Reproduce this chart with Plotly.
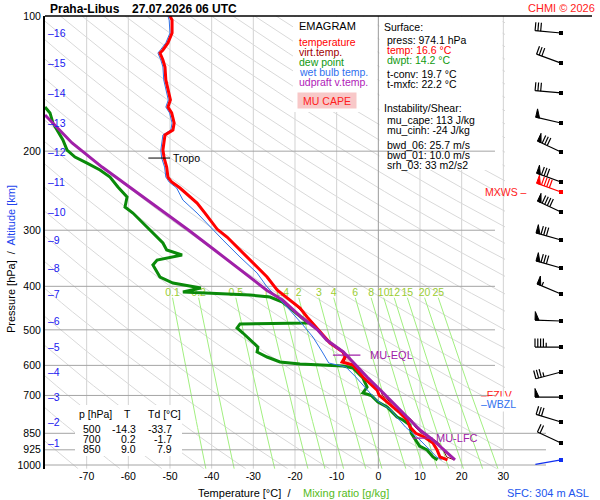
import numpy as np
import plotly.graph_objects as go

W, H = 600, 500
FONT = "Liberation Sans, Arial, Helvetica, sans-serif"

# ---------------- axis geometry (pixels of the 600x500 picture) ----------------
T_ZERO_PX, PX_PER_DEG = 378.33, 4.1667
T_MIN, T_MAX = -80.0, 30.4
Y_TOP_PX, PX_PER_DECADE = 16.0, 449.0
P_MIN, P_MAX = 100.0, 1020.0
X_LEFT_PX = T_ZERO_PX + T_MIN * PX_PER_DEG
X_RIGHT_PX = T_ZERO_PX + T_MAX * PX_PER_DEG
Y_BOT_PX = Y_TOP_PX + PX_PER_DECADE * np.log10(P_MAX / P_MIN)

# ---------------- data ----------------
temp_p = [100.0, 102.1, 109.1, 114.8, 119.0, 120.9, 125.3, 129.9, 138.8, 146.1,
          153.8, 159.5, 164.4, 173.1, 179.4, 184.1, 198.9, 207.2, 217.0, 228.4,
          234.3, 241.6, 253.0, 261.0, 274.7, 287.7, 298.2, 310.7, 332.0, 354.9,
          381.4, 407.6, 429.1, 447.1, 468.2, 500.0, 535.0, 560.2, 574.8, 589.7,
          598.8, 636.9, 680.8, 700.0, 742.7, 765.8, 793.8, 822.8, 850.0, 866.1,
          893.2, 925.8, 959.7, 974.1]
temp_t = [-50.0, -49.5, -49.5, -50.5, -51.7, -52.4, -51.7, -51.2, -51.0, -50.5,
          -49.9, -50.5, -49.6, -49.0, -49.3, -51.2, -51.7, -51.4, -50.8, -50.5,
          -49.6, -47.6, -45.2, -43.5, -41.6, -39.9, -38.7, -36.3, -33.2, -30.1,
          -26.7, -24.3, -21.4, -18.8, -17.1, -14.3, -11.6, -8.5, -8.0, -8.7,
          -6.1, -3.7, -0.3, 0.2, 3.5, 5.2, 6.9, 7.6, 9.0, 11.0,
          13.1, 14.1, 14.8, 16.6]

dwpt_p = [159.5, 164.4, 173.1, 181.2, 188.8, 198.9, 206.1, 212.6, 220.3, 228.4,
          240.4, 253.0, 266.4, 274.7, 295.1, 320.3, 332.0, 340.7, 349.5, 358.6,
          381.4, 393.3, 403.5, 411.8, 418.2, 422.5, 433.5, 475.4, 482.7, 485.2,
          495.3, 508.2, 532.3, 546.1, 560.2, 574.8, 589.7, 595.8, 601.9, 608.1,
          640.2, 670.4, 691.3, 700.0, 723.9, 742.7, 781.7, 793.8, 814.4, 850.0,
          907.1, 925.8, 959.7, 974.1]
dwpt_t = [-80.0, -78.8, -78.1, -76.9, -75.7, -74.7, -72.8, -69.9, -66.8, -64.4,
          -62.5, -60.3, -60.8, -58.9, -55.6, -51.7, -50.8, -47.1, -53.1, -54.1,
          -52.4, -49.3, -42.6, -46.9, -30.8, -26.0, -23.0, -17.5, -16.8, -33.2,
          -33.9, -32.5, -30.1, -28.9, -29.1, -26.7, -23.6, -18.8, -8.5, -6.1,
          -3.7, -2.7, -3.7, -1.7, -0.1, 2.1, 4.5, 5.9, 7.6, 7.9,
          9.9, 11.7, 13.1, 14.2]

wetb_p = [100.0, 102.1, 109.1, 114.8, 119.0, 120.9, 125.3, 129.9, 138.8, 146.1,
          153.8, 159.5, 164.4, 173.1, 179.4, 184.1, 198.9, 207.2, 217.0, 228.4,
          234.3, 241.6, 257.0, 274.7, 295.1, 315.4, 344.2, 373.6, 401.4, 422.5,
          444.8, 487.7, 518.7, 563.1, 592.7, 605.0, 636.9, 687.8, 716.5, 754.1,
          822.8, 879.5, 911.7, 959.7, 974.1]
wetb_t = [-50.5, -50.2, -50.0, -51.0, -52.3, -52.9, -52.2, -51.7, -51.5, -51.0,
          -50.4, -51.0, -50.1, -49.5, -49.8, -51.7, -52.2, -52.0, -51.3, -51.0,
          -50.2, -48.4, -46.9, -43.5, -40.4, -37.3, -33.2, -29.1, -26.7, -24.3,
          -21.9, -18.1, -15.7, -13.3, -11.9, -7.8, -5.4, -2.2, -0.5, 3.0,
          6.5, 10.0, 11.7, 14.0, 15.2]

virt_p = [429.1, 468.2, 500.0, 535.0, 560.2, 574.8, 589.7, 598.8, 636.9, 680.8,
          700.0, 742.7, 765.8, 793.8, 822.8, 850.0, 866.1, 893.2, 925.8, 959.7, 974.1]
virt_t = [-21.3, -16.9, -14.2, -11.4, -8.2, -7.7, -8.3, -5.6, -3.0, 0.5,
          1.0, 4.4, 6.1, 8.0, 8.8, 10.4, 12.4, 14.5, 15.6, 16.4, 18.2]

parcel_p = [166.1, 191.8, 217.0, 244.1, 274.7, 300.0, 332.0, 368.0, 408.0, 429.1,
            468.2, 500.0, 526.8, 560.2, 592.7, 636.9, 691.3, 781.7, 835.7, 879.5,
            930.0, 964.6, 974.1]
parcel_t = [-80.0, -73.5, -66.3, -58.7, -51.2, -45.5, -39.3, -33.0, -26.8, -23.0,
            -18.5, -14.6, -12.4, -8.4, -6.0, -2.7, 1.2, 6.9, 10.0, 13.1,
            16.0, 17.9, 18.4]

alt_km = list(range(1, 17))
alt_p = [893.2, 802.0, 705.7, 620.7, 546.1, 477.8, 416.1, 364.1, 315.4, 273.3,
         234.3, 200.9, 173.1, 148.4, 127.3, 109.1]
wind_spd = [20, 30, 50, 35, 45, 50, 55, 80, 80, 90, 80, 80, 50, 30, 30, 30]
wind_dir = [295, 287, 270, 255, 270, 272, 293, 286, 286, 295, 290, 295, 283, 275, 290, 275]
mxws_p, mxws_spd, mxws_dir = 246.6, 90, 290
sfc_p, sfc_spd, sfc_dir = 974.1, 2, 260

p_ticks = [100, 200, 300, 400, 500, 600, 700, 850, 925, 1000]
t_ticks = [-70, -60, -50, -40, -30, -20, -10, 0, 10, 20, 30]
mix_ratio = [0.1, 0.2, 0.5, 1, 1.4, 2, 3, 4, 6, 8, 10, 12, 15, 20, 25]
mix_label = ["0.1", "0.2", "0.5", "1", "1.4", "2", "3", "4", "6", "8", "10", "12", "15", "20", "25"]

table_p = [500, 700, 850]
table_t = [-14.3, 0.2, 9.0]
table_td = [-33.7, -1.7, 7.9]

tropo_p, tropo_t = 207.2, -52.6
eql_p, eql_t = 569.0, -7.6
lfc_p, lfc_t = 871.0, 10.7
fzlv_p, wbzl_p = 697.0, 731.0

sfc_info = dict(press=974.1, temp=16.6, dwpt=14.2, tconv=19.7, tmxfc=22.2)
instab = dict(mu_cape=113, mu_cinh=-24, bwd_06=25.7, bwd_01=10.0, srh_03=33)
station, stamp, sfc_height = "Praha-Libus", "27.07.2026 06 UTC", 304


# ---------------- helpers ----------------
def px_t(x):
    return (x - T_ZERO_PX) / PX_PER_DEG


def py_p(y):
    return P_MIN * 10 ** ((y - Y_TOP_PX) / PX_PER_DECADE)


def joined(seqs):
    xs, ys = [], []
    for sx, sy in seqs:
        xs += list(sx) + [None]
        ys += list(sy) + [None]
    return xs, ys


fig = go.Figure()


def add_lines(xs, ys, color, width, xaxis="x", **kw):
    fig.add_trace(go.Scatter(x=xs, y=ys, mode="lines", xaxis=xaxis, yaxis="y",
                             line=dict(color=color, width=width), hoverinfo="skip", **kw))


def add_box(x0, x1, y0, y1, color="white"):
    t0, t1, p0, p1 = px_t(x0), px_t(x1), py_p(y0), py_p(y1)
    fig.add_trace(go.Scatter(x=[t0, t1, t1, t0, t0], y=[p0, p0, p1, p1, p0], mode="lines",
                             fill="toself", fillcolor=color, line=dict(width=0),
                             hoverinfo="skip"))


# ---------------- background grid ----------------
iso = [([t, t], [P_MIN, P_MAX]) for t in t_ticks if t not in (0, 30)]
add_lines(*joined(iso), "#d2d2d2", 1)

pp = np.geomspace(P_MIN, P_MAX, 50)
dry = [(th * (pp / 1000.0) ** 0.2857 - 273.15, pp) for th in np.arange(190, 600, 10)]
add_lines(*joined(dry), "#d9d9d9", 1)

pm = np.geomspace(424.0, P_MAX, 30)


def mix_t(w, p):
    e = w * p / (622.0 + w)
    a = np.log(e / 6.112)
    return 243.5 * a / (17.67 - a)


mixl = [(mix_t(w, pm), pm) for w in mix_ratio]
add_lines(*joined(mixl), "#a2ef80", 1)

isob = []
for p in p_ticks[2:]:
    isob.append(([T_MIN, T_MAX if p >= 850 else 28.0], [p, p]))
add_lines(*joined(isob), "#a4a4a4", 1)
ext = [([X_RIGHT_PX, 546.0], [p, p]) for p in p_ticks if p >= 850]
add_lines(*joined(ext), "#a4a4a4", 1, xaxis="x2")

# white boxes covering the grid
add_box(293, 377.5, 16.5, 112)     # legend
add_box(379.5, 502.5, 16.5, 170)   # surface / instability info
add_box(75, 182, 405, 456)         # table

add_lines([T_MIN, 28.0], [200, 200], "#a4a4a4", 1)
add_lines([0, 0], [P_MIN, P_MAX], "#9a9a9a", 1)
add_lines([30, 30], [P_MIN, P_MAX], "#d2d2d2", 1)

# mixing ratio labels (under the profiles)
p_lab = py_p(293)
fig.add_trace(go.Scatter(x=[mix_t(w, p_lab + 10) for w in mix_ratio], y=[p_lab] * len(mix_ratio),
                         mode="text", text=mix_label, hoverinfo="skip",
                         textfont=dict(family=FONT, size=10.5, color="#9acd32")))

# ---------------- CAPE area ----------------
par_p, par_t = np.array(parcel_p), np.array(parcel_t)
vp, vt = np.array(virt_p), np.array(virt_t)
m1 = (par_p > eql_p) & (par_p < lfc_p)
m2 = (vp > eql_p) & (vp < lfc_p)
cx = [eql_t] + list(par_t[m1]) + [lfc_t] + list(vt[m2][::-1]) + [eql_t]
cy = [eql_p] + list(par_p[m1]) + [lfc_p] + list(vp[m2][::-1]) + [eql_p]
fig.add_trace(go.Scatter(x=cx, y=cy, mode="lines", fill="toself", fillcolor="#f6c6c6",
                         line=dict(width=0), hoverinfo="skip"))

# ---------------- profiles ----------------
add_lines(dwpt_t, dwpt_p, "#0a8a0a", 3)
add_lines(wetb_t, wetb_p, "#2f72e6", 1)
add_lines(virt_t, virt_p, "#8b0000", 1)
add_lines(temp_t, temp_p, "#ff0000", 3)
add_lines(parcel_t, parcel_p, "#a020a8", 3)

# level markers
add_lines([tropo_t - 2.6, tropo_t + 2.6], [tropo_p, tropo_p], "black", 1)
add_lines([eql_t - 3.3, eql_t + 3.3], [eql_p, eql_p], "#a020a8", 1.2)
add_lines([lfc_t - 2.4, lfc_t + 2.4], [lfc_p, lfc_p], "#a020a8", 1.2)

# ---------------- wind barbs (right panel) ----------------
BARB_X0, STAFF, BARB_LEN, BARB_SP, FLAG_W = 561.0, 26.0, 8.5, 2.8, 4.0


def barb(p0, spd, ddeg):
    r = np.radians(ddeg)
    ux, uy = np.sin(r), -np.cos(r)
    bx, by = -uy, ux

    def d(dx, dy):
        return BARB_X0 + dx, p0 * 10 ** (dy / PX_PER_DECADE)

    tx, ty = STAFF * ux, STAFF * uy
    segs = [[d(0, 0), d(tx, ty)]]
    flags = []
    s = int(5 * round(spd / 5.0))
    n50, rest = divmod(s, 50)
    n10, rest = divmod(rest, 10)
    n5 = rest // 5
    pos = 0.0
    for _ in range(n50):
        ax, ay = tx - ux * pos, ty - uy * pos
        ex, ey = tx - ux * (pos + FLAG_W), ty - uy * (pos + FLAG_W)
        flags.append([d(ax, ay), d(ax + bx * BARB_LEN, ay + by * BARB_LEN), d(ex, ey), d(ax, ay)])
        pos += FLAG_W
    if n50:
        pos += 1.2
    for _ in range(n10):
        ax, ay = tx - ux * pos, ty - uy * pos
        segs.append([d(ax, ay), d(ax + bx * BARB_LEN, ay + by * BARB_LEN)])
        pos += BARB_SP
    if n5:
        if pos == 0:
            pos = BARB_SP
        ax, ay = tx - ux * pos, ty - uy * pos
        segs.append([d(ax, ay), d(ax + bx * BARB_LEN / 2, ay + by * BARB_LEN / 2)])
    return segs, flags


def draw_barbs(levels, color):
    segs, flags, dots = [], [], []
    for p0, s, dd in levels:
        sg, fl = barb(p0, s, dd)
        segs += sg
        flags += fl
        dots.append(p0)
    xs, ys = joined([([a[0] for a in sgm], [a[1] for a in sgm]) for sgm in segs])
    add_lines(xs, ys, color, 1.2, xaxis="x2")
    if flags:
        fx, fy = joined([([a[0] for a in f], [a[1] for a in f]) for f in flags])
        fig.add_trace(go.Scatter(x=fx, y=fy, mode="lines", fill="toself", fillcolor=color,
                                 line=dict(color=color, width=1), xaxis="x2", yaxis="y",
                                 hoverinfo="skip"))
    fig.add_trace(go.Scatter(x=[BARB_X0] * len(dots), y=dots, mode="markers", xaxis="x2", yaxis="y",
                             marker=dict(symbol="square", size=4, color=color), hoverinfo="skip"))


draw_barbs(list(zip(alt_p, wind_spd, wind_dir)), "black")
draw_barbs([(mxws_p, mxws_spd, mxws_dir)], "#ff0000")
draw_barbs([(sfc_p, sfc_spd, sfc_dir)], "#1030f0")

# ---------------- annotations ----------------
ann = []


def ptxt(x, y, s, color="black", size=10.5, xanchor="left", **kw):
    d = dict(x=x / W, y=1 - y / H, xref="paper", yref="paper", text=s, showarrow=False,
             xanchor=xanchor, yanchor="middle", borderpad=0,
             font=dict(family=FONT, size=size, color=color))
    d.update(kw)
    ann.append(d)


def dtxt(t, p, s, color="black", size=10.5, xanchor="left", xref="x", **kw):
    d = dict(x=t, y=np.log10(p), xref=xref, yref="y", text=s, showarrow=False,
             xanchor=xanchor, yanchor="middle", borderpad=0,
             font=dict(family=FONT, size=size, color=color))
    d.update(kw)
    ann.append(d)


ptxt(49, 9, "<b>%s</b>" % station, size=12)
ptxt(131, 9, "<b>%s</b>" % stamp, size=12)
ptxt(596, 8, "CHMI © 2026", color="#ff1a1a", size=11, xanchor="right")

# legend
ptxt(298, 26, "EMAGRAM", size=11)
ptxt(298, 42, "temperature", color="#ff0000")
ptxt(298, 52, "virt.temp.", color="#a00000")
ptxt(298, 62, "dew point", color="#119911")
ptxt(298, 72, "wet bulb temp.", color="#3070ee")
ptxt(298, 82, "udpraft v.temp.", color="#b020b8")
ptxt(327, 101, "MU CAPE", color="#ff2020", xanchor="center", bgcolor="#f8c8c8",
     width=58, height=15)

# surface / instability info
ptxt(383, 27, "Surface:")
ptxt(386, 40, "press: %.1f hPa" % sfc_info["press"])
ptxt(386, 50, "temp: %.1f °C" % sfc_info["temp"], color="#ff0000")
ptxt(386, 60, "dwpt: %.1f °C" % sfc_info["dwpt"], color="#119911")
ptxt(386, 74, "t-conv: %.1f °C" % sfc_info["tconv"])
ptxt(386, 84, "t-mxfc: %.1f °C" % sfc_info["tmxfc"])
ptxt(383, 108, "Instability/Shear:")
ptxt(386, 120, "mu_cape: %d J/kg" % instab["mu_cape"])
ptxt(386, 130, "mu_cinh: %d J/kg" % instab["mu_cinh"])
ptxt(386, 145, "bwd_06: %.1f m/s" % instab["bwd_06"])
ptxt(386, 155, "bwd_01: %.1f m/s" % instab["bwd_01"])
ptxt(386, 165, "srh_03: %d m2/s2" % instab["srh_03"])

# table
ptxt(78, 414, "p [hPa]")
ptxt(127.5, 414, "T", xanchor="center")
ptxt(147, 414, "Td [°C]")
for i, (p, t, td) in enumerate(zip(table_p, table_t, table_td)):
    yy = 429 + 10 * i
    ptxt(102, yy, "%d" % p, xanchor="right")
    ptxt(137, yy, "%.1f" % t, xanchor="right")
    ptxt(173, yy, "%.1f" % td, xanchor="right")

# axis titles
ptxt(197, 493, "Temperature [°C]  /", size=11)
ptxt(302, 493, "Mixing ratio [g/kg]", color="#55bb22", size=11)
ptxt(590, 493, "SFC: %d m ASL" % sfc_height, color="#2255ee", size=11, xanchor="right")
ptxt(11, 259, "Pressure [hPa]  /  <span style='color:#2244ee'>Altitude [km]</span>",
     size=11, xanchor="center", textangle=-90)

# altitude scale
for km, p in zip(alt_km, alt_p):
    dtxt(px_t(47), p, "–%d" % km, color="#2020f0")

# level labels
dtxt(px_t(171.5), tropo_p, "Tropo")
dtxt(px_t(369), eql_p, "MU-EQL", color="#a020a8", size=11)
dtxt(px_t(435), lfc_p, "MU-LFC", color="#a020a8", size=11)
dtxt(px_t(480), fzlv_p, "–FZLV", color="#ff2020")
dtxt(px_t(479), wbzl_p, "–WBZL", color="#3070ee", bgcolor="white", borderpad=1)
dtxt(528 / W, mxws_p, "MXWS –", color="#ff2020", xanchor="right", xref="paper")

fig.update_layout(
    width=W, height=H, margin=dict(l=0, r=0, t=0, b=0, autoexpand=False),
    paper_bgcolor="white", plot_bgcolor="white", showlegend=False,
    font=dict(family=FONT, size=10.5, color="black"),
    annotations=ann,
    shapes=[dict(type="line", xref="paper", yref="paper", x0=X_LEFT_PX / W, x1=592 / W,
                 y0=1 - Y_TOP_PX / H, y1=1 - Y_TOP_PX / H, line=dict(color="black", width=1.5))],
    xaxis=dict(domain=[X_LEFT_PX / W, X_RIGHT_PX / W], range=[T_MIN, T_MAX],
               tickmode="array", tickvals=t_ticks, ticktext=[str(t) for t in t_ticks],
               showgrid=False, zeroline=False, showline=False, ticks="", automargin=False,
               tickfont=dict(family=FONT, size=10.5, color="black"), anchor="y", fixedrange=True),
    xaxis2=dict(domain=[X_RIGHT_PX / W, 1.0], range=[X_RIGHT_PX, W], anchor="y",
                visible=False, showgrid=False, zeroline=False, fixedrange=True),
    yaxis=dict(type="log", domain=[1 - Y_BOT_PX / H, 1 - Y_TOP_PX / H],
               range=[np.log10(P_MAX), np.log10(P_MIN)], automargin=False,
               tickmode="array", tickvals=p_ticks, ticktext=[str(p) for p in p_ticks],
               showgrid=False, zeroline=False, showline=True, linecolor="black", linewidth=2,
               ticks="", tickfont=dict(family=FONT, size=10.5, color="black"), fixedrange=True),
)

fig.write_html("out.html", config={"displayModeBar": False},
               post_script="document.body.style.margin='0px';")
